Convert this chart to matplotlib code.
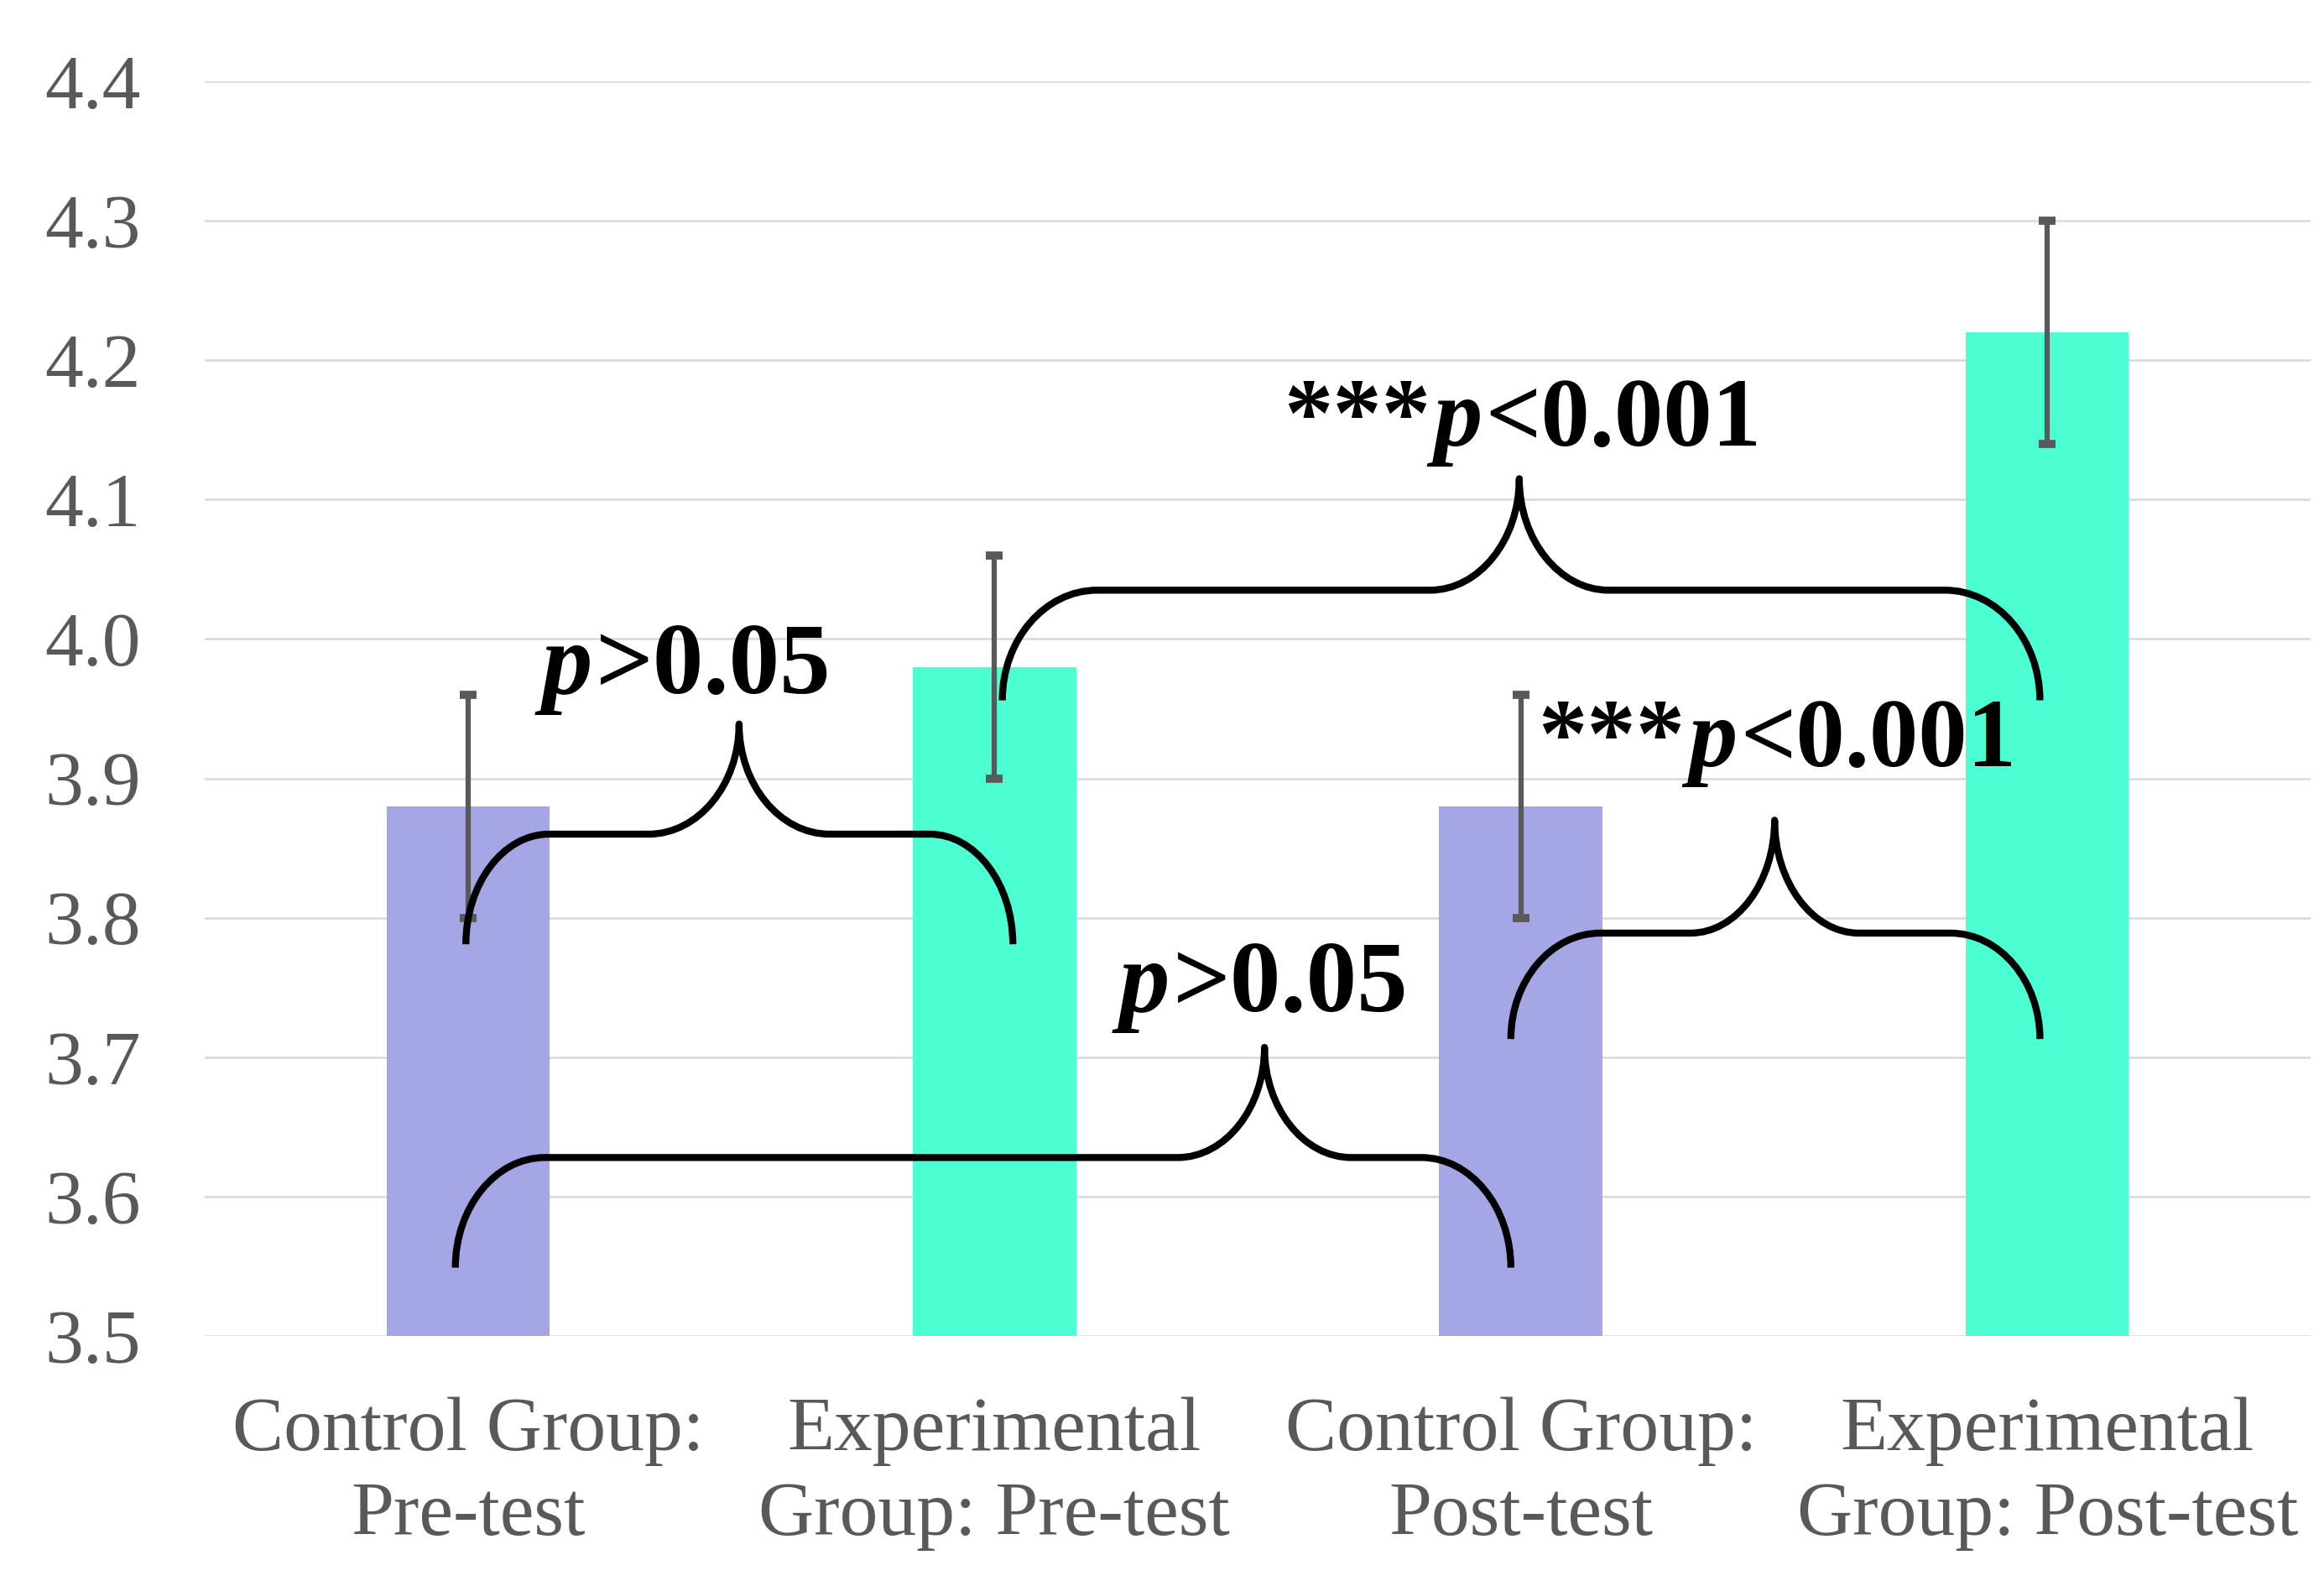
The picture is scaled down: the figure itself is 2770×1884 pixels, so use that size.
import matplotlib
matplotlib.use("Agg")
import matplotlib.pyplot as plt
from matplotlib.path import Path
from matplotlib.patches import PathPatch
import matplotlib.transforms as mtransforms

# ---------------- data ----------------
categories = ["Control Group:\nPre-test", "Experimental\nGroup: Pre-test",
              "Control Group:\nPost-test", "Experimental\nGroup: Post-test"]
means = [3.88, 3.98, 3.88, 4.22]
errors = [0.08, 0.08, 0.08, 0.08]
y_ticks = [3.5, 3.6, 3.7, 3.8, 3.9, 4.0, 4.1, 4.2, 4.3, 4.4]
y_tick_labels = ["3.5", "3.6", "3.7", "3.8", "3.9", "4.0", "4.1", "4.2", "4.3", "4.4"]

# significance annotations: (stars, comparison text)
sig_stars = ["", "", "***", "***"]
sig_text = [">0.05", ">0.05", "<0.001", "<0.001"]

# ---------------- styling / layout ----------------
bar_colors = ["#A5A6E6", "#4BFFD2", "#A5A6E6", "#4BFFD2"]
grey = "#595959"
serif = "Liberation Serif"

# brace geometry: x0, x1, xc, y_end, y_h, y_top, leg_rx, cusp_rx
braces = [
    (-0.004, 1.035, 0.515, 3.781, 3.860, 3.939, 0.158, 0.172),
    (-0.024, 1.981, 1.513, 3.549, 3.628, 3.707, 0.170, 0.165),
    (1.015, 2.986, 1.997, 3.956, 4.035, 4.115, 0.180, 0.170),
    (1.981, 2.986, 2.482, 3.713, 3.789, 3.870, 0.170, 0.160),
]
# label anchor (x center, baseline y)
label_pos = [(0.415, 3.961), (1.511, 3.733), (2.003, 4.139), (2.487, 3.909)]

fig = plt.figure(figsize=(27.7, 18.84), dpi=100)
ax = fig.add_axes([0.0881, 0.155, 0.9061, 0.7935])

x = list(range(len(categories)))
ax.bar(x, [m - 3.5 for m in means], bottom=3.5, width=0.31, color=bar_colors, zorder=2)
ax.errorbar(x, means, yerr=errors, fmt="none", ecolor=grey, elinewidth=4.5,
            capsize=7.5, capthick=7, zorder=3)

ax.set_xlim(-0.5, 3.5)
ax.set_ylim(3.5, 4.4)
ax.set_yticks(y_ticks)
ax.set_yticklabels(y_tick_labels)
ax.set_xticks(x)
ax.set_xticklabels(categories, linespacing=1.3)
for lab in ax.get_xticklabels() + ax.get_yticklabels():
    lab.set_fontfamily(serif)
    lab.set_fontsize(66)
    lab.set_color(grey)
ax.tick_params(axis="y", length=0, pad=55)
ax.tick_params(axis="x", length=0, pad=52)
ax.yaxis.grid(True, color="#D9D9D9", linewidth=1.8, zorder=0)
ax.set_axisbelow(True)
for s in ax.spines.values():
    s.set_visible(False)


def brace_path(x0, x1, xc, y_end, y_h, y_top, leg_rx, cusp_rx, k=0.55):
    verts = []
    codes = []
    dy_leg = y_h - y_end
    dy_cusp = y_top - y_h
    verts += [(x0, y_end)]
    codes += [Path.MOVETO]
    # left leg
    verts += [(x0, y_end + k * dy_leg), (x0 + (1 - k) * leg_rx, y_h), (x0 + leg_rx, y_h)]
    codes += [Path.CURVE4] * 3
    verts += [(xc - cusp_rx, y_h)]
    codes += [Path.LINETO]
    # rise to cusp
    verts += [(xc - cusp_rx + k * cusp_rx, y_h), (xc, y_top - k * dy_cusp), (xc, y_top)]
    codes += [Path.CURVE4] * 3
    # descend from cusp
    verts += [(xc, y_top - k * dy_cusp), (xc + cusp_rx - k * cusp_rx, y_h), (xc + cusp_rx, y_h)]
    codes += [Path.CURVE4] * 3
    verts += [(x1 - leg_rx, y_h)]
    codes += [Path.LINETO]
    # right leg
    verts += [(x1 - (1 - k) * leg_rx, y_h), (x1, y_end + k * dy_leg), (x1, y_end)]
    codes += [Path.CURVE4] * 3
    return Path(verts, codes)


for b in braces:
    ax.add_patch(PathPatch(brace_path(*b), facecolor="none", edgecolor="black",
                           linewidth=6, capstyle="butt", joinstyle="round", zorder=5))

renderer = fig.canvas.get_renderer()
gap_frac = 0.03


def rich_label(xc, yb, parts, fs):
    gap = gap_frac * fs * fig.dpi / 72.0
    texts, widths = [], []
    for s, style in parts:
        t = ax.text(xc, yb, s, fontsize=fs, fontfamily=serif, fontweight="bold",
                    fontstyle=style, ha="left", va="baseline", color="black", zorder=6)
        w = t.get_window_extent(renderer).width
        texts.append(t)
        widths.append(w)
    total = sum(widths) + gap * (len(widths) - 1)
    cur = -total / 2.0
    for t, w in zip(texts, widths):
        t.set_transform(mtransforms.offset_copy(ax.transData, fig=fig, x=cur, y=0, units="dots"))
        cur += w + gap


for (lx, ly), stars, txt in zip(label_pos, sig_stars, sig_text):
    parts = []
    if stars:
        parts.append((stars, "normal"))
    parts.append(("p", "italic"))
    parts.append((txt, "normal"))
    rich_label(lx, ly, parts, 84 if stars else 87)

fig.savefig("out.png", dpi=100, facecolor="white")
